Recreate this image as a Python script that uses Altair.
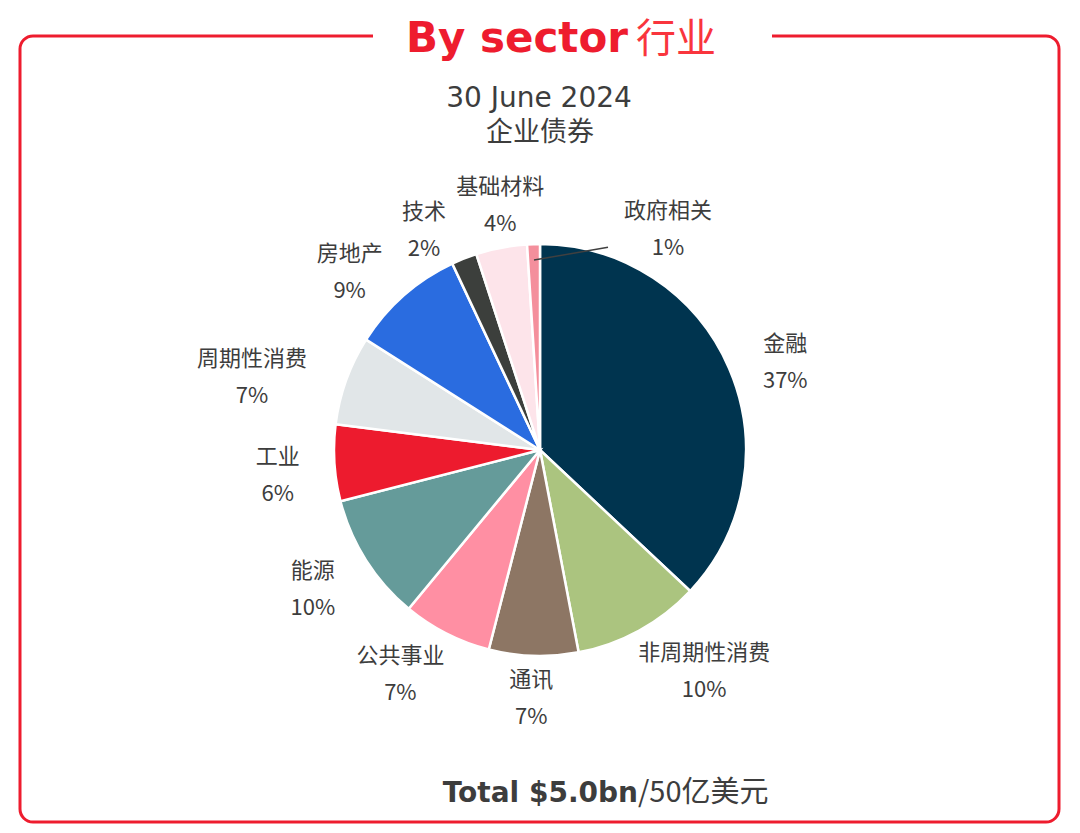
import altair as alt
import pandas as pd

# ---- data ----
sectors = ["金融", "非周期性消费", "通讯", "公共事业", "能源", "工业",
           "周期性消费", "房地产", "技术", "基础材料", "政府相关"]
shares = [37, 10, 7, 7, 10, 6, 7, 9, 2, 4, 1]
colors = ["#00344f", "#abc47f", "#8d7664", "#ff8fa3", "#659b9a", "#ed1b2e",
          "#e1e6e8", "#2a6ce0", "#3c3f3c", "#fde4ea", "#f48f9c"]

title_main = "By sector"
title_cn = "行业"
subtitle1 = "30 June 2024"
subtitle2 = "企业债券"
total_bold = "Total $5.0bn"
total_reg = "/50亿美元"

df = pd.DataFrame({"sector": sectors, "share": shares,
                   "idx": list(range(len(sectors)))})

W, H = 1064, 817
CX, CY = 532, 442
R = 206
RL = 240
LH = 37
RED = "#ee1c2e"
TXT = "#3d3d3d"
CJK = "Noto Sans CJK SC"

one = pd.DataFrame({"a": [0]})

frame = alt.Chart(one).mark_rect(
    fill="white", stroke=RED, strokeWidth=3, cornerRadius=13
).encode(x=alt.value(12), x2=alt.value(1051), y=alt.value(28), y2=alt.value(814))

gap = alt.Chart(one).mark_rect(fill="white").encode(
    x=alt.value(365), x2=alt.value(764), y=alt.value(20), y2=alt.value(36))

t1 = alt.Chart(one).mark_text(
    text=title_main, font="DejaVu Sans", fontWeight="bold", fontSize=42,
    color=RED, align="right", baseline="alphabetic"
).encode(x=alt.value(620), y=alt.value(44))
t2 = alt.Chart(one).mark_text(
    text=title_cn, font=CJK, fontSize=40, color="#f9353d",
    align="left", baseline="alphabetic"
).encode(x=alt.value(628), y=alt.value(44))

s1 = alt.Chart(one).mark_text(
    text=subtitle1, font="DejaVu Sans", fontSize=28, color=TXT, align="center"
).encode(x=alt.value(531), y=alt.value(91))
s2 = alt.Chart(one).mark_text(
    text=subtitle2, font=CJK, fontSize=27, color=TXT, align="center"
).encode(x=alt.value(532), y=alt.value(125))

tb = alt.Chart(one).mark_text(
    text=total_bold, font="DejaVu Sans", fontWeight="bold", fontSize=28,
    color=TXT, align="right", baseline="alphabetic"
).encode(x=alt.value(630), y=alt.value(794))
tr = alt.Chart(one).mark_text(
    text=total_reg, font=CJK, fontSize=29,
    color=TXT, align="left", baseline="alphabetic"
).encode(x=alt.value(630), y=alt.value(794))

base = alt.Chart(df)

pie = base.mark_arc(outerRadius=R, stroke="white", strokeWidth=2.5).encode(
    theta=alt.Theta("share:Q", stack=True),
    color=alt.Color("sector:N", scale=alt.Scale(domain=sectors, range=colors),
                    legend=None),
    order=alt.Order("idx:Q", sort="ascending"),
    x=alt.value(CX), y=alt.value(CY),
)

lab_base = base.transform_window(
    cum="sum(share)", sort=[alt.SortField("idx", order="ascending")],
    frame=[None, 0]
).transform_joinaggregate(
    total="sum(share)"
).transform_calculate(
    mid="(datum.cum - datum.share/2) / datum.total * 2 * PI",
).transform_window(
    prevmid="lag(mid)", nextmid="lead(mid)", nextshare="lead(share)",
    sort=[alt.SortField("idx", order="ascending")],
).transform_calculate(
    push="(datum.prevmid != null && datum.mid - datum.prevmid < 0.25 ? 0.06 : 0)"
         " - (datum.nextmid != null && datum.nextshare >= 1.5 && datum.nextmid - datum.mid < 0.25 ? 0.06 : 0)",
    la="datum.share < 1.5 ? datum.mid + 0.46 : datum.mid + datum.push",
    w="max(length(datum.sector) * 22, 44)",
    lx=f"{CX} + {RL} * sin(datum.la)"
       " + datum.w / 2 * sin(datum.la) * (1 + 0.6 * abs(cos(datum.la)))",
    ly=f"{CY} - ({RL} + 8 * abs(cos(datum.la))) * cos(datum.la)"
       " + 10 * abs(sin(datum.la))",
    ty=f"datum.ly - {LH / 2}",
    sx=f"{CX} + 190 * sin(datum.mid)",
    sy=f"{CY} - 190 * cos(datum.mid)",
    ex="datum.lx - datum.w / 2 - 16",
    ey="datum.ly + 18",
    label="datum.sector + '\\n' + datum.share + '%'",
)

labels = lab_base.mark_text(
    font=CJK, fontSize=22, color=TXT, lineBreak="\n", lineHeight=LH,
    align="center", baseline="middle"
).encode(
    x=alt.X("lx:Q", scale=None), y=alt.Y("ty:Q", scale=None),
    text="label:N",
)

leader = lab_base.transform_filter("datum.share < 1.5").mark_rule(
    color="#404040", strokeWidth=1.5
).encode(
    x=alt.X("sx:Q", scale=None), y=alt.Y("sy:Q", scale=None),
    x2="ex:Q", y2="ey:Q",
)

chart = alt.layer(frame, gap, t1, t2, s1, s2, tb, tr, pie, leader, labels).properties(
    width=W, height=H, autosize=alt.AutoSizeParams(type="none"), padding=0,
    background="white"
).configure_view(stroke=None)

chart.save("out.html", embed_options={"renderer": "svg", "actions": False})
